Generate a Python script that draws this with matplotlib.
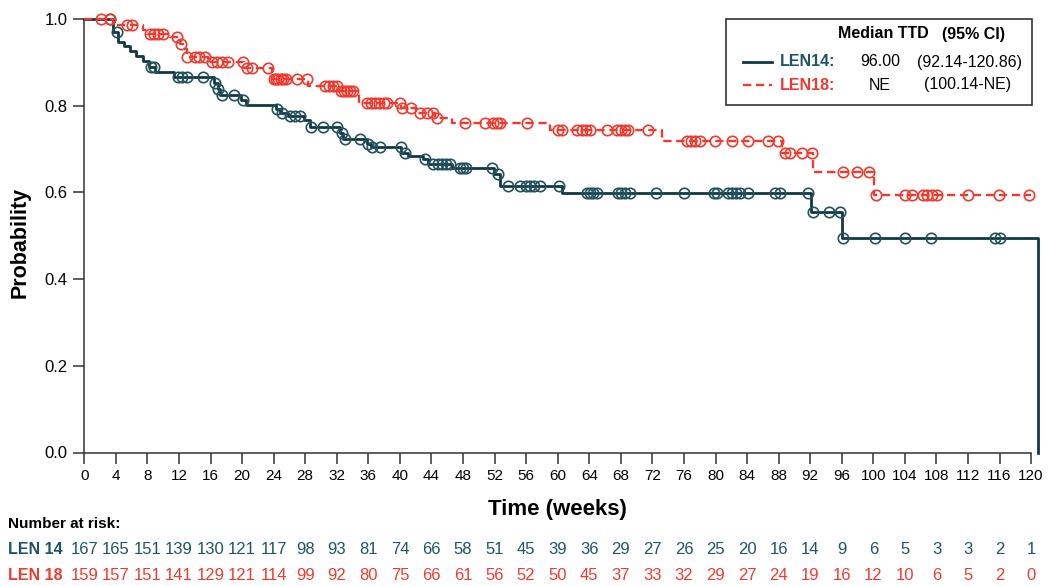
import numpy as np
import matplotlib
matplotlib.use('Agg')
import matplotlib.pyplot as plt
from matplotlib.lines import Line2D
from matplotlib.patches import Rectangle
from matplotlib import transforms

plt.rcParams['font.family'] = ['Liberation Sans', 'DejaVu Sans']

# LEN14: step times and survival after each step
t14 = [0, 3.7, 4.3, 5.0, 5.8, 6.6, 7.4, 8.2, 9.0, 11.4, 16.4, 16.9, 17.2, 19.8, 20.5,
       24.3, 24.8, 25.8, 27.8, 28.6, 32.4, 32.8, 35.8, 36.3, 40.2, 41.0, 42.9, 43.5,
       46.6, 51.9, 52.7, 60.6, 92.14, 96.0, 120.86]
s14 = [1.0, 0.970, 0.947, 0.937, 0.926, 0.915, 0.904, 0.890, 0.877, 0.866, 0.852, 0.838,
       0.824, 0.812, 0.802, 0.792, 0.784, 0.776, 0.766, 0.752, 0.738, 0.724, 0.712, 0.705,
       0.692, 0.684, 0.676, 0.666, 0.656, 0.642, 0.615, 0.599, 0.555, 0.495, 0.0]
cens14 = [3.3, 4.1, 8.4, 8.8, 11.9, 12.4, 13.0, 15.0, 16.6, 17.0, 17.4, 19.0, 20.1, 24.4,
          25.0, 26.1, 26.7, 27.3, 28.7, 30.2, 32.0, 32.6, 33.1, 35.0, 35.9, 36.5, 37.5,
          40.1, 40.6, 43.2, 44.2, 44.8, 45.3, 45.8, 46.3, 47.6, 48.0, 48.4, 51.7, 52.4,
          53.7, 55.2, 56.0, 56.5, 57.0, 57.7, 60.2, 63.7, 64.1, 64.5, 65.0, 67.6, 68.0,
          68.5, 69.1, 72.4, 76.0, 79.8, 80.2, 81.6, 82.1, 82.6, 83.1, 84.1, 87.5, 88.2,
          91.7, 92.3, 94.4, 95.8, 96.2, 100.2, 104.0, 107.3, 115.4, 116.0]

# LEN18
t18 = [0, 3.7, 7.4, 7.9, 10.8, 12.1, 12.5, 13.0, 15.7, 20.3, 23.8, 28.4, 32.2, 34.8,
       40.1, 42.1, 44.5, 46.6, 59.0, 73.2, 88.4, 92.3, 100.14]
s18 = [1.0, 0.987, 0.975, 0.965, 0.958, 0.942, 0.930, 0.912, 0.900, 0.888, 0.862, 0.845,
       0.833, 0.806, 0.795, 0.783, 0.772, 0.760, 0.744, 0.719, 0.691, 0.647, 0.594]
cens18 = [2.1, 3.3, 5.4, 6.0, 8.3, 8.8, 9.4, 10.0, 11.7, 12.3, 13.0, 14.0, 14.6, 15.3,
          16.2, 16.8, 17.5, 18.2, 20.1, 20.6, 21.3, 23.3, 24.0, 24.3, 24.6, 24.9, 25.2,
          25.6, 27.0, 28.2, 30.5, 31.0, 31.5, 32.0, 32.5, 32.9, 33.3, 33.7, 34.1, 35.8,
          36.3, 36.8, 37.3, 38.0, 38.4, 40.0, 40.3, 41.4, 42.5, 43.4, 44.2, 44.7, 48.3,
          50.8, 51.8, 52.3, 52.7, 56.1, 60.0, 60.5, 62.4, 63.1, 63.6, 64.1, 66.2, 67.5,
          68.0, 68.5, 68.9, 71.4, 76.4, 76.9, 77.4, 78.0, 79.9, 82.1, 84.1, 86.7, 87.9,
          88.8, 89.4, 90.9, 92.2, 96.1, 97.9, 99.4, 100.3, 104.0, 104.9, 106.3, 106.8,
          107.4, 108.1, 112.0, 115.9, 119.7]
end18 = 120.0

risk_times = list(range(0, 121, 4))
risk14 = [167, 165, 151, 139, 130, 121, 117, 98, 93, 81, 74, 66, 58, 51, 45, 39, 36, 29,
          27, 26, 25, 20, 16, 14, 9, 6, 5, 3, 3, 2, 1]
risk18 = [159, 157, 151, 141, 129, 121, 114, 99, 92, 80, 75, 66, 61, 56, 52, 50, 45, 37,
          33, 32, 29, 27, 24, 19, 16, 12, 10, 6, 5, 2, 0]

DARK = '#123844'
DARK_M = '#23525f'
TEAL = '#1d5566'
RED = '#ef3b2f'

W, H = 1048, 586
fig = plt.figure(figsize=(W / 100, H / 100), dpi=100)
ax = fig.add_axes([84.3 / W, 1 - 452.5 / H, 962.6 / W, 433.5 / H])


def level_at(times, levels, x):
    idx = np.searchsorted(times, x, side='right') - 1
    return np.array(levels)[idx]


# LEN14 curve
ax.step(t14 + [t14[-1]], s14 + [s14[-1]], where='post', color=DARK, lw=2.0,
        clip_on=False, zorder=3)
ax.plot(cens14, level_at(t14, s14, cens14), 'o', ms=7.5, mfc='none', mec=DARK_M, mew=1.2,
        clip_on=False, zorder=4)

# LEN18 curve
ax.step(t18 + [end18], s18 + [s18[-1]], where='post', color=RED, lw=1.7,
        ls=(0, (3.5, 2)), clip_on=False, zorder=3)
ax.plot(cens18, level_at(t18, s18, cens18), 'o', ms=7.5, mfc='none', mec=RED, mew=1.2,
        clip_on=False, zorder=4)

ax.set_xlim(0, 122)
ax.set_ylim(0, 1.0)
ax.spines['top'].set_visible(False)
ax.spines['right'].set_visible(False)
ax.spines['bottom'].set_bounds(0, 120)
for sp in ('left', 'bottom'):
    ax.spines[sp].set_linewidth(1.1)
    ax.spines[sp].set_color('#333333')
ax.set_xticks(risk_times)
ax.set_yticks([0, 0.2, 0.4, 0.6, 0.8, 1.0])
ax.set_yticklabels(['0.0', '0.2', '0.4', '0.6', '0.8', '1.0'])
ax.tick_params(direction='out', length=8, width=1.1, color='#333333', pad=4)
ax.tick_params(axis='x', labelsize=11)
ax.tick_params(axis='y', labelsize=12)

fig.text(84.3 / W + 60 * 7.89 / W, 1 - 509 / H, 'Time (weeks)', ha='center', va='center',
         fontsize=16, fontweight='bold')
fig.text(20 / W, 1 - 242 / H, 'Probability', ha='center', va='center', rotation=90,
         fontsize=15.5, fontweight='bold')

# number at risk table
fig.text(8 / W, 1 - 524 / H, 'Number at risk:', ha='left', va='center', fontsize=11,
         fontweight='bold')
fig.text(8 / W, 1 - 549 / H, 'LEN 14', ha='left', va='center', fontsize=11.5,
         fontweight='bold', color=TEAL)
fig.text(8 / W, 1 - 576 / H, 'LEN 18', ha='left', va='center', fontsize=11.5,
         fontweight='bold', color=RED)
trans = transforms.blended_transform_factory(ax.transData, fig.transFigure)
for t, a, b in zip(risk_times, risk14, risk18):
    ax.text(t, 1 - 549 / H, str(a), transform=trans, ha='center', va='center',
            fontsize=12, color=TEAL)
    ax.text(t, 1 - 576 / H, str(b), transform=trans, ha='center', va='center',
            fontsize=12, color=RED)

# legend box
fig.patches.append(Rectangle((726 / W, 1 - 105 / H), 306 / W, 86 / H, fill=False,
                             ec='#333333', lw=1.2, transform=fig.transFigure))
fig.text(838 / W, 1 - 34 / H, 'Median TTD', ha='left', va='center', fontsize=11.5,
         fontweight='bold')
fig.text(942 / W, 1 - 34 / H, '(95% CI)', ha='left', va='center', fontsize=11.5,
         fontweight='bold')
fig.lines.append(Line2D([743 / W, 772 / W], [1 - 62 / H, 1 - 62 / H], color=DARK, lw=2.0,
                        transform=fig.transFigure))
fig.lines.append(Line2D([743 / W, 772 / W], [1 - 85 / H, 1 - 85 / H], color=RED, lw=1.7,
                        ls=(0, (3.5, 2)), transform=fig.transFigure))
fig.text(780 / W, 1 - 62 / H, 'LEN14:', ha='left', va='center', fontsize=11.5,
         fontweight='bold', color=TEAL)
fig.text(780 / W, 1 - 85 / H, 'LEN18:', ha='left', va='center', fontsize=11.5,
         fontweight='bold', color=RED)
fig.text(880 / W, 1 - 62 / H, '96.00', ha='center', va='center', fontsize=11.5)
fig.text(970 / W, 1 - 62 / H, '(92.14-120.86)', ha='center', va='center', fontsize=11.5)
fig.text(880 / W, 1 - 85 / H, 'NE', ha='center', va='center', fontsize=11.5)
fig.text(968 / W, 1 - 85 / H, '(100.14-NE)', ha='center', va='center', fontsize=11.5)

fig.savefig('out.png', dpi=100)
